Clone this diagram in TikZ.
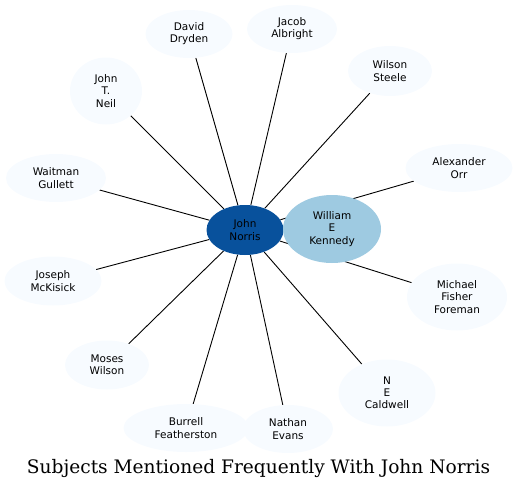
\documentclass[tikz,border=0pt]{standalone}
\usepackage{fontspec}
\setmainfont{DejaVu Sans}
\newfontfamily\titlefont{DejaVu Serif}
\usetikzlibrary{shapes.geometric,backgrounds}
\definecolor{outerfill}{HTML}{F7FBFF}
\definecolor{centerfill}{HTML}{08519C}
\definecolor{secondfill}{HTML}{9ECAE1}
\tikzset{
  person/.style={ellipse, fill=outerfill, inner sep=0pt, align=center,
    font=\fontsize{10.5}{12.2}\selectfont},
  hub/.style={person, fill=centerfill},
  second/.style={person, fill=secondfill},
  link/.style={draw=black, line width=0.9pt},
}
\begin{document}
\begin{tikzpicture}[x=1pt,y=-1pt]
\useasboundingbox (0,0) rectangle (519,490);
\node[hub, minimum width=77pt, minimum height=50pt] (jn) at (245,230) {John\\Norris};
\node[person, minimum width=87pt, minimum height=48pt] (dd) at (189,34) {David\\Dryden};
\node[person, minimum width=90pt, minimum height=48pt] (ja) at (292,29) {Jacob\\Albright};
\node[person, minimum width=84pt, minimum height=50pt] (ws) at (390,71) {Wilson\\Steele};
\node[person, minimum width=107pt, minimum height=48pt] (ao) at (459,168) {Alexander\\Orr};
\node[person, minimum width=72pt, minimum height=67pt] (jt) at (106,91) {John\\T.\\Neil};
\node[person, minimum width=100pt, minimum height=48pt] (wg) at (56,178) {Waitman\\Gullett};
\node[person, minimum width=97pt, minimum height=49pt] (jm) at (53,281) {Joseph\\McKisick};
\node[person, minimum width=84pt, minimum height=49pt] (mw) at (107,365) {Moses\\Wilson};
\node[person, minimum width=125pt, minimum height=48pt] (bf) at (186,428) {Burrell\\Featherston};
\node[person, minimum width=90pt, minimum height=48pt] (ne) at (288,429) {Nathan\\Evans};
\node[person, minimum width=97pt, minimum height=67pt] (nc) at (387,393) {N\\E\\Caldwell};
\node[person, minimum width=100pt, minimum height=67pt] (mf) at (457,297) {Michael\\Fisher\\Foreman};
\begin{pgfonlayer}{background}
\foreach \t in {dd,ja,ws,ao,jt,wg,jm,mw,bf,ne,nc,mf}{
  \draw[link] (jn) -- (\t);
}
\end{pgfonlayer}
\node[second, minimum width=98pt, minimum height=68pt] (wk) at (332,229) {William\\E\\Kennedy};
\begin{pgfonlayer}{background}
\draw[link] (jn) -- (wk);
\end{pgfonlayer}
\node[font=\titlefont\fontsize{18.6}{22}\selectfont, inner sep=0pt, anchor=base] (title) at (258.5,473) {Subjects Mentioned Frequently With John Norris};
\end{tikzpicture}
\end{document}
